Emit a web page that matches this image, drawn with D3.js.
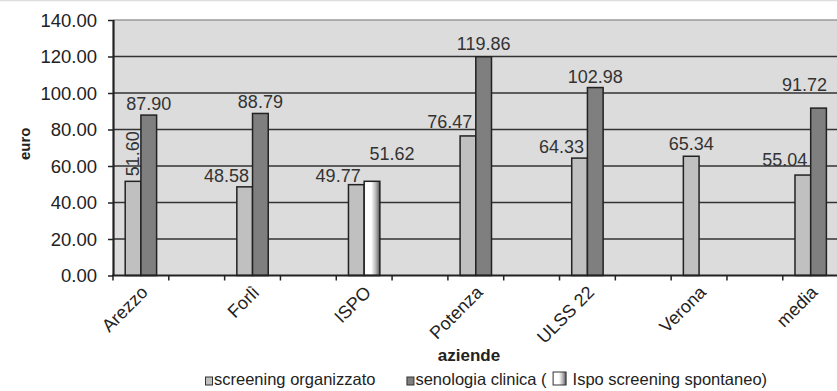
<!DOCTYPE html>
<html>
<head>
<meta charset="utf-8">
<script src="https://cdn.jsdelivr.net/npm/d3@7/dist/d3.min.js"></script>
<style>
  html, body { margin: 0; padding: 0; background: #fff; }
  svg { display: block; font-family: "Liberation Sans", Arial, sans-serif; }
</style>
</head>
<body>
<svg id="chart" width="837" height="391"></svg>
<script>
// Costo per esame (euro) per azienda
const categories = ["Arezzo", "Forlì", "ISPO", "Potenza", "ULSS 22", "Verona", "media"];
const screeningOrganizzato = [51.60, 48.58, 49.77, 76.47, 64.33, 65.34, 55.04];
const senologiaClinica = [87.90, 88.79, 51.62, 119.86, 102.98, null, 91.72];
// the ISPO clinical value is the spontaneous-screening figure
const spontaneoCategory = "ISPO";
const yTicks = [0, 20, 40, 60, 80, 100, 120, 140];
const seriesNames = ["screening organizzato", "senologia clinica (", "Ispo screening spontaneo)"];

const svg = d3.select("#chart");
const W = 837, H = 391;
const plot = { left: 113, top: 20, right: 838.6, bottom: 275.5 };

const colLight = "#c0c0c0", colDark = "#7f7f7f", colBg = "#dcdcdc", ink = "#222";

// horizontal white-to-grey shading for the spontaneous-screening bar
const defs = svg.append("defs");
const grad = defs.append("linearGradient").attr("id", "spont").attr("x1", "0").attr("x2", "1").attr("y1", "0").attr("y2", "0");
[["0%", "#f4f4f4"], ["15%", "#ffffff"], ["45%", "#ffffff"], ["75%", "#b4b4b4"], ["100%", "#555555"]]
  .forEach(([o, c]) => grad.append("stop").attr("offset", o).attr("stop-color", c));

// category slots alternate with empty spacer slots
const slotKeys = categories.flatMap((c, i) => i < categories.length - 1 ? [c, "_gap" + i] : [c]);
const x = d3.scaleBand().domain(slotKeys).range([plot.left, plot.right]).paddingInner(0).paddingOuter(0);
const sub = d3.scaleBand().domain(["scr", "sen"]).range([0, x.bandwidth()]).paddingInner(0).paddingOuter(0.777);
const y = d3.scaleLinear().domain([0, 140]).range([plot.bottom, plot.top]);

// faint rule across the top of the figure
svg.append("line").attr("x1", 0).attr("x2", W).attr("y1", 0.5).attr("y2", 0.5)
  .attr("stroke", "#dedede").attr("stroke-width", 1.5);

// plot background
svg.append("rect").attr("x", plot.left).attr("y", y(140)).attr("width", W - plot.left).attr("height", y(0) - y(140))
  .attr("fill", colBg);

// gridlines
svg.append("g").selectAll("line").data(yTicks.filter(t => t > 0 && t < 140)).join("line")
  .attr("x1", plot.left).attr("x2", W).attr("y1", d => y(d)).attr("y2", d => y(d))
  .attr("stroke", "#333").attr("stroke-width", 1.5);
svg.append("line").attr("x1", plot.left).attr("x2", W).attr("y1", y(140)).attr("y2", y(140))
  .attr("stroke", "#9a9a9a").attr("stroke-width", 1.5);

// bars
const bars = svg.append("g");
categories.forEach((c, i) => {
  const x0 = x(c);
  bars.append("rect")
    .attr("x", x0 + sub("scr")).attr("y", y(screeningOrganizzato[i]))
    .attr("width", sub.bandwidth()).attr("height", y(0) - y(screeningOrganizzato[i]))
    .attr("fill", colLight).attr("stroke", ink).attr("stroke-width", 1.5);
  if (senologiaClinica[i] != null) {
    bars.append("rect")
      .attr("x", x0 + sub("sen")).attr("y", y(senologiaClinica[i]))
      .attr("width", sub.bandwidth()).attr("height", y(0) - y(senologiaClinica[i]))
      .attr("fill", c === spontaneoCategory ? "url(#spont)" : colDark)
      .attr("stroke", ink).attr("stroke-width", 1.5);
  }
});

// y axis
const yAxis = svg.append("g").attr("transform", `translate(${plot.left},0)`)
  .call(d3.axisLeft(y).tickValues(yTicks).tickFormat(d3.format(".2f")).tickSize(5).tickPadding(11));
yAxis.select(".domain").attr("stroke", ink).attr("stroke-width", 2.2).attr("d", `M0.5,${y(140)}V${y(0)}`);
yAxis.selectAll(".tick line").attr("stroke", ink).attr("stroke-width", 1.5);
yAxis.selectAll(".tick text").attr("fill", ink).style("font-size", "18.5px")
  .style("font-family", '"Liberation Sans", Arial, sans-serif').attr("dy", "0.34em");

// x axis line with ticks on slot boundaries
const xg = svg.append("g");
xg.append("line").attr("x1", plot.left - 1).attr("x2", W).attr("y1", plot.bottom).attr("y2", plot.bottom)
  .attr("stroke", ink).attr("stroke-width", 2.2);
const boundaries = slotKeys.map(k => x(k)).concat([x.range()[1]]);
xg.selectAll("line.tk").data(boundaries).join("line").attr("class", "tk")
  .attr("x1", d => d).attr("x2", d => d).attr("y1", plot.bottom).attr("y2", plot.bottom + 5)
  .attr("stroke", ink).attr("stroke-width", 1.5);
xg.selectAll("text").data(categories).join("text")
  .attr("transform", c => `translate(${x(c) + x.bandwidth() / 2 + 8},${plot.bottom + 18}) rotate(-45)`)
  .attr("text-anchor", "end").attr("fill", ink).style("font-size", "18px").text(c => c);

// value labels
const fmt = d3.format(".2f");
const labels = svg.append("g").attr("fill", "#333").style("font-size", "18px");
// per-label placement tweaks [dx, dy]
const scrTweak = { "Arezzo": "vertical", "ISPO": [0, 2], "Potenza": [0, -3], "media": [0, -4] };
const senTweak = { "ISPO": [20, -16], "media": [-14, -12], "Potenza": [0, -2] };
categories.forEach((c, i) => {
  const v = screeningOrganizzato[i];
  const bx = x(c) + sub("scr"), bw = sub.bandwidth();
  const t = scrTweak[c];
  if (t === "vertical") {
    labels.append("text")
      .attr("transform", `translate(${bx + bw / 2 + 6},${y(v) - 5}) rotate(-90)`)
      .attr("text-anchor", "start").text(fmt(v));
  } else if (senologiaClinica[i] != null) {
    const [dx, dy] = t || [0, 0];
    labels.append("text").attr("x", bx + bw - 3.5 + dx).attr("y", y(v) - 5 + dy)
      .attr("text-anchor", "end").text(fmt(v));
  } else {
    labels.append("text").attr("x", bx + bw / 2).attr("y", y(v) - 6)
      .attr("text-anchor", "middle").text(fmt(v));
  }
  const s = senologiaClinica[i];
  if (s != null) {
    const [dx, dy] = senTweak[c] || [0, 0];
    labels.append("text").attr("x", x(c) + sub("sen") + bw / 2 + dx).attr("y", y(s) - 5 + dy)
      .attr("text-anchor", "middle").text(fmt(s));
  }
});

// axis titles
svg.append("text").attr("transform", `translate(30,${(plot.top + plot.bottom) / 2 - 4}) rotate(-90)`)
  .attr("text-anchor", "middle").attr("fill", ink).style("font-size", "15px").style("font-weight", "bold").text("euro");
svg.append("text").attr("x", 469).attr("y", 361).attr("text-anchor", "middle").attr("fill", ink)
  .style("font-size", "17px").style("font-weight", "bold").text("aziende");

// legend
const leg = svg.append("g").style("font-size", "16.5px").attr("fill", ink);
const legY = 385;
let lx = 205;
const swatch = (fill, w, h) => {
  leg.append("rect").attr("x", lx + 0.5).attr("y", legY - h).attr("width", w).attr("height", h)
    .attr("fill", fill).attr("stroke", "#333").attr("stroke-width", 1);
  lx += w + 2;
};
const label = (txt, gap) => {
  const t = leg.append("text").attr("x", lx).attr("y", legY).text(txt);
  lx += t.node().getComputedTextLength() + gap;
};
swatch(colLight, 7, 8);
label(seriesNames[0], 31);
swatch(colDark, 7, 8);
label(seriesNames[1], 6);
swatch("url(#spont)", 13, 13);
lx += 5;
label(seriesNames[2], 0);
</script>
</body>
</html>
